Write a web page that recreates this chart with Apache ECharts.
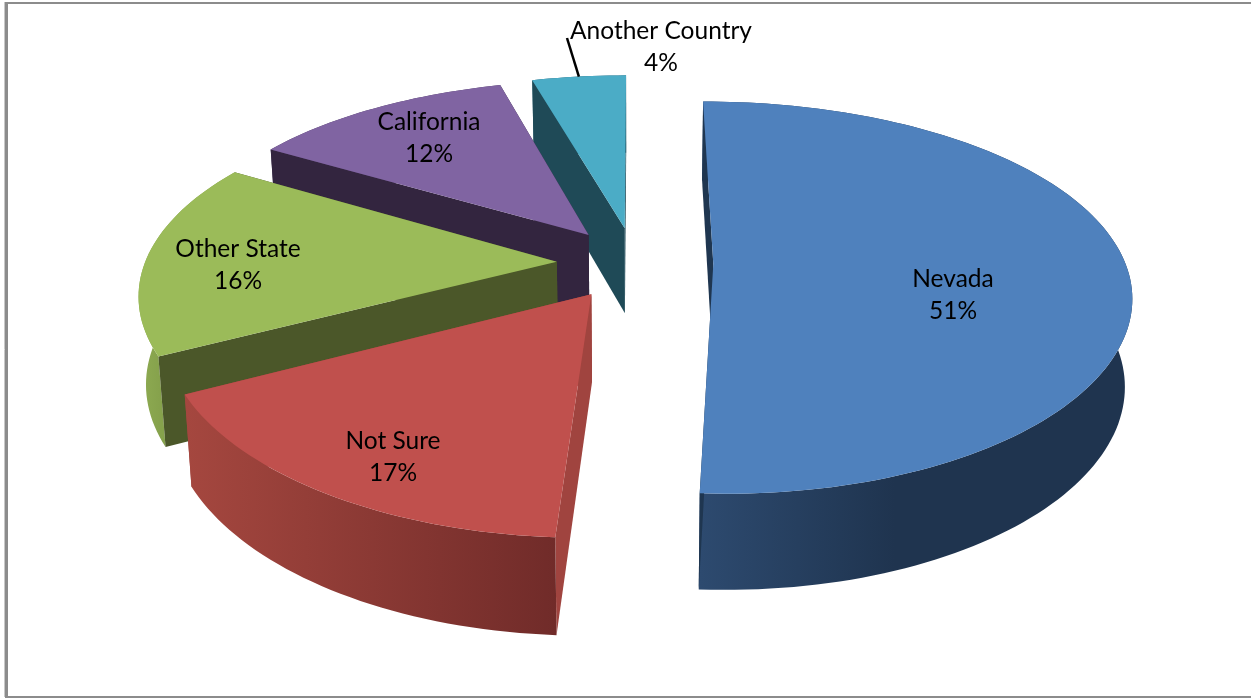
<!DOCTYPE html>
<html>
<head>
<meta charset="utf-8">
<title>Pie</title>
<style>
    html, body { margin: 0; padding: 0; background: #fff; }
    #chart { width: 1251px; height: 698px; }
</style>
<script src="https://cdn.jsdelivr.net/npm/echarts@6/dist/echarts.min.js"></script>
</head>
<body>
<div id="chart"></div>
<script>
// values, clockwise from 12 o'clock (labels show them rounded)
var categories = ['Nevada', 'Not Sure', 'Other State', 'California', 'Another Country'];
var shares = [50.9, 16.5, 16.2, 12.1, 4.3];

// styles, same order as categories
var topColors = ['#4f81bd', '#c0504d', '#9bbb59', '#8064a2', '#4bacc6'];
var wallColors = ['#1f3650', '#a0443f', '#4b5729', '#33253f', '#1f4a57'];
var rimColors = [
    ['#2d4a6f', '#1f344f', '#1f344f'],
    ['#a5473f', '#702b29', '#702b29'],
    ['#8eab52', '#86a24c', '#86a24c'],
    ['#4c3c61', '#4c3c61', '#4c3c61'],
    ['#2d6677', '#2d6677', '#2d6677']
];
var rimRanges = [[700, 1000], [185, 560], [140, 170], [270, 510], [530, 630]];
var labelCenters = [[953, 295], [393, 457], [238, 265], [429, 138], [661, 47]];
var leaderStart = [567, 38];
var drawOrder = [4, 3, 2, 0, 1];

// projection of the tilted pie
var originX = 635, originY = 263;
var scaleX = 412, scaleY = 190, perspectiveX = 0.15, perspectiveY = 0.171;
var explode = 0.19;
var depth = 86.5, depthPerspective = 0.1, bottomShrink = 0.985;

var total = shares.reduce(function(a, b) { return a + b; }, 0);

function project(u, v, low) {
    var x = originX + scaleX * u / (1 + perspectiveX * v);
    var y = originY - scaleY * v / (1 + perspectiveY * v);
    if (low) {
        x = originX + (x - originX) * bottomShrink;
        y += depth / (1 + depthPerspective * v);
    }
    return [x, y];
}

function sliceAngles(i) {
    var before = 0;
    for (var k = 0; k < i; k++) before += shares[k];
    return [before / total * 2 * Math.PI, (before + shares[i]) / total * 2 * Math.PI];
}

function renderSlice(params, api) {
    var i = api.value(0);
    var a = sliceAngles(i);
    var mid = (a[0] + a[1]) / 2;
    var cu = explode * Math.sin(mid), cv = explode * Math.cos(mid);

    function rim(t, low) {
        return project(cu + Math.sin(t), cv + Math.cos(t), low);
    }

    var steps = Math.max(8, Math.round((a[1] - a[0]) * 40));
    var upper = [], lower = [];
    for (var s = 0; s <= steps; s++) {
        var t = a[0] + (a[1] - a[0]) * s / steps;
        upper.push(rim(t, false));
        lower.push(rim(t, true));
    }
    var apex = project(cu, cv, false), apexLow = project(cu, cv, true);

    var stops = rimColors[i];
    var rimFill = new echarts.graphic.LinearGradient(rimRanges[i][0], 0, rimRanges[i][1], 0, i === 1 ? [
        { offset: 0, color: stops[0] }, { offset: 1, color: stops[1] }
    ] : [
        { offset: 0, color: stops[0] }, { offset: 0.65, color: stops[1] }, { offset: 1, color: stops[2] }
    ], true);

    var rimFace = {
        type: 'polygon',
        shape: { points: upper.concat(lower.slice().reverse()) },
        style: { fill: rimFill }
    };
    var walls = [{
        type: 'polygon',
        shape: { points: [apex, upper[steps], lower[steps], apexLow] },
        style: { fill: wallColors[i] }
    }, {
        type: 'polygon',
        shape: { points: [apex, upper[0], lower[0], apexLow] },
        style: { fill: wallColors[i] }
    }];

    // slices facing the viewer show the rim in front of their walls
    var children = Math.cos(mid) < -0.5 ? walls.concat(rimFace) : [rimFace].concat(walls);
    children.push({
        type: 'polygon',
        shape: { points: [apex].concat(upper) },
        style: { fill: topColors[i] }
    });
    if (i === 4) {
        children.push({
            type: 'line',
            shape: { x1: leaderStart[0], y1: leaderStart[1], x2: rim(mid, false)[0], y2: rim(mid, false)[1] },
            style: { stroke: '#000', lineWidth: 2.5 }
        });
    }
    children.push({
        type: 'text',
        style: {
            text: categories[i] + '\n' + Math.round(shares[i]) + '%',
            x: labelCenters[i][0],
            y: labelCenters[i][1],
            align: 'center',
            verticalAlign: 'middle',
            lineHeight: 32,
            font: '24.5px Lato',
            fill: '#000'
        }
    });
    return { type: 'group', children: children };
}

var chart = echarts.init(document.getElementById('chart'));
chart.setOption({
    animation: false,
    graphic: [
        { type: 'line', shape: { x1: 4.5, y1: 2, x2: 4.5, y2: 697 }, style: { stroke: '#c8c8c8', lineWidth: 1 } },
        { type: 'line', shape: { x1: 6.5, y1: 2, x2: 6.5, y2: 697 }, style: { stroke: '#8c8c8c', lineWidth: 3 } },
        { type: 'line', shape: { x1: 5, y1: 3, x2: 1251, y2: 3 }, style: { stroke: '#8c8c8c', lineWidth: 2 } },
        { type: 'line', shape: { x1: 5, y1: 697, x2: 1251, y2: 697 }, style: { stroke: '#8c8c8c', lineWidth: 2 } }
    ],
    series: [{
        type: 'custom',
        coordinateSystem: 'none',
        silent: true,
        renderItem: renderSlice,
        data: drawOrder.map(function(i) { return [i]; })
    }]
});
</script>
</body>
</html>
